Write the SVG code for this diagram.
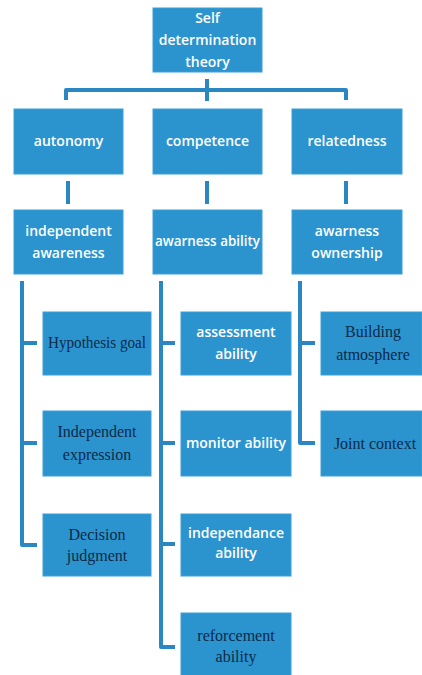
<svg xmlns="http://www.w3.org/2000/svg" width="422" height="675" viewBox="0 0 422 675">
<style>
.box{fill:#2b94cf;stroke:#3aa0d8;stroke-width:1}
.w{font-family:"Open Sans","Liberation Sans",sans-serif;font-weight:600;font-size:14px;fill:#ffffff;text-anchor:middle}
.s{font-family:"Liberation Serif","Times New Roman",serif;font-size:16px;fill:#0d2a48;text-anchor:middle}
.c{fill:none;stroke:#2a87c2;stroke-width:4;stroke-linejoin:round}
</style>
<rect width="422" height="675" fill="#ffffff"/>
<g id="connectors">
<path class="c" d="M207 79V101M66 100V90H346V100"/>
<path class="c" d="M68 181V204M207 181V204M346 181V204"/>
<path class="c" d="M22 281V545H37M22 343H37M22 443H37"/>
<path class="c" d="M161 281V647H175M161 343H175M161 443H175M161 544H175"/>
<path class="c" d="M300 281V443H315M300 343H315"/>
</g>
<g id="n-sdt"><rect class="box" x="153" y="8" width="109" height="64"/><text class="w" x="207.5" y="23">Self</text><text class="w" x="207.5" y="45">determination</text><text class="w" x="207.5" y="67">theory</text></g>
<g id="n-autonomy"><rect class="box" x="14" y="109" width="109" height="65"/><text class="w" x="68.5" y="146">autonomy</text></g>
<g id="n-competence"><rect class="box" x="153" y="109" width="109" height="65"/><text class="w" x="207.5" y="146">competence</text></g>
<g id="n-relatedness"><rect class="box" x="292" y="109" width="110" height="65"/><text class="w" x="347" y="146">relatedness</text></g>
<g id="n-indaware"><rect class="box" x="14" y="210" width="109" height="64"/><text class="w" x="68.5" y="236">independent</text><text class="w" x="68.5" y="258">awareness</text></g>
<g id="n-awability"><rect class="box" x="153" y="210" width="109" height="64"/><text class="w" x="207.5" y="246" textLength="105" lengthAdjust="spacingAndGlyphs">awarness ability</text></g>
<g id="n-awown"><rect class="box" x="292" y="210" width="110" height="64"/><text class="w" x="347" y="236">awarness</text><text class="w" x="347" y="258">ownership</text></g>
<g id="n-hyp"><rect class="box" x="43" y="312" width="108" height="63"/><text class="s" x="97" y="348" textLength="98" lengthAdjust="spacingAndGlyphs">Hypothesis goal</text></g>
<g id="n-indexp"><rect class="box" x="43" y="411" width="108" height="65"/><text class="s" x="97" y="437">Independent</text><text class="s" x="97" y="460">expression</text></g>
<g id="n-dec"><rect class="box" x="43" y="514" width="108" height="62"/><text class="s" x="97" y="540">Decision</text><text class="s" x="97" y="561">judgment</text></g>
<g id="n-assess"><rect class="box" x="181" y="312" width="110" height="63"/><text class="w" x="236" y="337">assessment</text><text class="w" x="236" y="359">ability</text></g>
<g id="n-monitor"><rect class="box" x="181" y="411" width="110" height="65"/><text class="w" x="236" y="448">monitor ability</text></g>
<g id="n-indep"><rect class="box" x="181" y="514" width="110" height="62"/><text class="w" x="236" y="538">independance</text><text class="w" x="236" y="558">ability</text></g>
<g id="n-reforce"><rect class="box" x="181" y="613" width="110" height="64"/><text class="s" x="236" y="641">reforcement</text><text class="s" x="236" y="662">ability</text></g>
<g id="n-build"><rect class="box" x="321" y="312" width="101" height="63"/><text class="s" x="373" y="337">Building</text><text class="s" x="373" y="360">atmosphere</text></g>
<g id="n-joint"><rect class="box" x="321" y="411" width="101" height="65"/><text class="s" x="375" y="449">Joint context</text></g>
</svg>
